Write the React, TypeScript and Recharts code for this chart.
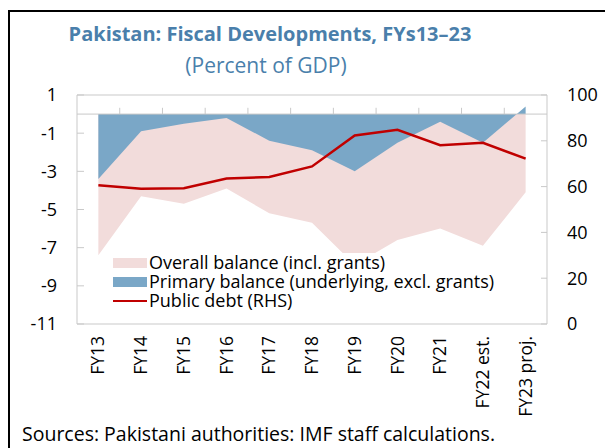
import { ComposedChart, Area, Line, XAxis, YAxis, ReferenceLine } from 'recharts';

const categories = ['FY13', 'FY14', 'FY15', 'FY16', 'FY17', 'FY18', 'FY19', 'FY20', 'FY21', 'FY22 est.', 'FY23 proj.'];
const overallBalance = [-7.4, -4.3, -4.7, -3.9, -5.2, -5.7, -7.9, -6.6, -6.0, -6.9, -4.1];
const primaryBalance = [-3.4, -0.9, -0.5, -0.2, -1.4, -1.9, -3.0, -1.5, -0.4, -1.5, 0.4];
const publicDebt = [60.6, 59.1, 59.3, 63.5, 64.2, 68.8, 82.3, 84.8, 78.1, 79.1, 72.2];

const leftTicks = [1, -1, -3, -5, -7, -9, -11];
const rightTicks = [0, 20, 40, 60, 80, 100];

const data = categories.map((name, i) => ({
  i,
  name,
  overall: overallBalance[i],
  primary: primaryBalance[i],
  debt: publicDebt[i],
}));

// tick marks on the zero line sit between categories
const boundaries = categories.slice(1).map((_, i) => i + 0.5);

const FONT = '"Open Sans", sans-serif';
const GRID = '#c9c9c9';
const PINK = '#f2dcdb';
const BLUE = '#7aa7c7';
const RED = '#c00000';

// eslint-disable-next-line @typescript-eslint/no-explicit-any
const CategoryTick = ({ x, y, payload }: any) => (
  <text
    x={x}
    y={y}
    transform={`rotate(-90, ${x}, ${y})`}
    textAnchor="end"
    dy="0.35em"
    fontSize={17.5}
    fontFamily={FONT}
    fill="#000"
  >
    {categories[payload.value]}
  </text>
);

const legendItems = [
  { label: 'Overall balance (incl. grants)', kind: 'area', color: PINK },
  { label: 'Primary balance (underlying, excl. grants)', kind: 'area', color: BLUE },
  { label: 'Public debt (RHS)', kind: 'line', color: RED },
];

export default function App() {
  return (
    <div
      style={{
        position: 'absolute',
        left: 0,
        top: 0,
        width: 605,
        height: 448,
        overflow: 'hidden',
        background: '#fff',
        fontFamily: FONT,
      }}
    >
      <div
        style={{
          position: 'absolute',
          left: 8,
          top: 10,
          width: 640,
          height: 480,
          borderTop: '2px solid #000',
          borderLeft: '2px solid #000',
        }}
      />
      <div
        style={{
          position: 'absolute',
          left: 0,
          width: 540,
          top: 20,
          textAlign: 'center',
          color: '#4a7fab',
          fontWeight: 700,
          fontSize: 20,
          lineHeight: '28px',
        }}
      >
        Pakistan: Fiscal Developments, FYs13–23
      </div>
      <div
        style={{
          position: 'absolute',
          left: 0,
          width: 532,
          top: 51,
          textAlign: 'center',
          color: '#4a7fab',
          fontSize: 21,
          lineHeight: '28px',
        }}
      >
        (Percent of GDP)
      </div>

      <div style={{ position: 'absolute', left: 0, top: 0 }}>
        <ComposedChart width={605} height={448} data={data} margin={{ top: 95, right: 8, bottom: 14, left: 20 }}>
          <XAxis
            dataKey="i"
            type="number"
            domain={[-0.5, 10.5]}
            ticks={data.map((d) => d.i)}
            allowDataOverflow
            height={110}
            axisLine={{ stroke: GRID }}
            tickLine={false}
            tickSize={0}
            tickMargin={12}
            tick={<CategoryTick />}
            interval={0}
          />
          <YAxis
            yAxisId="left"
            domain={[-11, 1]}
            ticks={leftTicks}
            allowDataOverflow
            width={57}
            axisLine={{ stroke: GRID }}
            tickLine={{ stroke: GRID }}
            tickSize={-7}
            tickMargin={27}
            tick={{ fill: '#000', fontSize: 18, fontFamily: FONT }}
            interval={0}
          />
          <YAxis
            yAxisId="right"
            orientation="right"
            domain={[0, 100]}
            ticks={rightTicks}
            allowDataOverflow
            width={50}
            axisLine={{ stroke: GRID }}
            tickLine={{ stroke: GRID }}
            tickSize={-6}
            tickMargin={26}
            tick={{ fill: '#000', fontSize: 18, fontFamily: FONT, textAnchor: 'start' }}
            interval={0}
          />
          <ReferenceLine yAxisId="left" y={1} stroke={GRID} />
          <Area
            yAxisId="left"
            dataKey="overall"
            type="linear"
            baseValue={0}
            fill={PINK}
            fillOpacity={1}
            stroke="none"
            isAnimationActive={false}
          />
          <Area
            yAxisId="left"
            dataKey="primary"
            type="linear"
            baseValue={0}
            fill={BLUE}
            fillOpacity={1}
            stroke="none"
            isAnimationActive={false}
          />
          <ReferenceLine yAxisId="left" y={0} stroke={GRID} />
          {boundaries.map((b) => (
            <ReferenceLine
              key={b}
              yAxisId="left"
              segment={[
                { x: b, y: 0 },
                { x: b, y: 0.33 },
              ]}
              stroke={GRID}
            />
          ))}
          <Line
            yAxisId="right"
            dataKey="debt"
            type="linear"
            stroke={RED}
            strokeWidth={2.5}
            dot={false}
            isAnimationActive={false}
          />
        </ComposedChart>
      </div>

      <div
        style={{
          position: 'absolute',
          left: 111,
          top: 253,
          background: '#fff',
          padding: '0px 4px 2px 2px',
          fontSize: 18,
          lineHeight: '19px',
        }}
      >
        {legendItems.map((item) => (
          <div key={item.label} style={{ display: 'flex', alignItems: 'center', height: 19 }}>
            <span style={{ width: 34, height: 19, display: 'flex', alignItems: 'center', marginRight: 2 }}>
              {item.kind === 'area' ? (
                <span style={{ width: 34, height: 10, background: item.color }} />
              ) : (
                <span style={{ width: 34, height: 2, background: item.color }} />
              )}
            </span>
            <span>{item.label}</span>
          </div>
        ))}
      </div>

      <div style={{ position: 'absolute', left: 22, top: 421, fontSize: 19.5, lineHeight: '26px', whiteSpace: 'nowrap' }}>
        Sources: Pakistani authorities: IMF staff calculations.
      </div>
    </div>
  );
}
